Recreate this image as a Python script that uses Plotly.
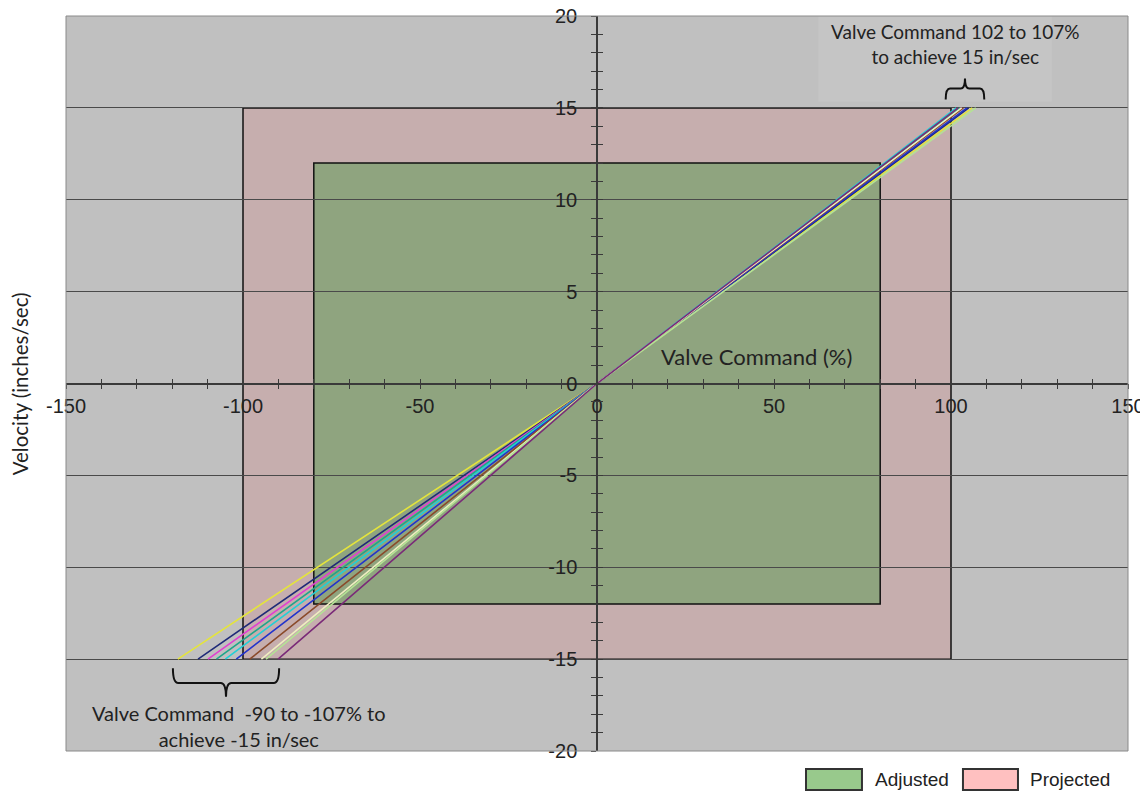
import plotly.graph_objects as go

# ---- data ----
x_range = [-150, 150]
y_range = [-20, 20]
x_tick_vals = [-150, -100, -50, 0, 50, 100, 150]
y_tick_vals = [-20, -15, -10, -5, 0, 5, 10, 15, 20]

projected_x = [-100, 100]
projected_y = [-15, 15]
adjusted_x = [-80, 80]
adjusted_y = [-12, 12]

target_velocity = 15
line_neg_ends = [-118.4, -112.7, -109.9, -107.5, -105.0, -101.9, -98.1, -94.8, -93.5, -90.1]
line_pos_ends = [106.0, 105.0, 103.0, 102.5, 101.5, 104.5, 103.5, 103.0, 107.0, 102.0]
line_colors = ['#e4e43c', '#1f2a78', '#e040d0', '#1fa58a', '#22cfd6',
               '#2233cc', '#8a4a2a', '#efeec0', '#b4e294', '#7a2a78']

# ---- figure ----
fig = go.Figure()

for xn, xp, c in zip(line_neg_ends, line_pos_ends, line_colors):
    fig.add_trace(go.Scatter(x=[xn, 0, xp], y=[-target_velocity, 0, target_velocity],
                             mode='lines', line=dict(color=c, width=1.6),
                             showlegend=False, hoverinfo='skip'))

# dummy trace for overlay axes (tick marks on the other side)
fig.add_trace(go.Scatter(x=[None], y=[None], xaxis='x2', yaxis='y2',
                         showlegend=False, hoverinfo='skip'))

shapes = []
# faint box behind top annotation
shapes.append(dict(type='rect', xref='x', yref='y', x0=62.5, x1=128.5, y0=15.35, y1=20,
                   fillcolor='#c5c5c5', line=dict(width=0), layer='below'))
# projected rect
shapes.append(dict(type='rect', xref='x', yref='y',
                   x0=projected_x[0], x1=projected_x[1], y0=projected_y[0], y1=projected_y[1],
                   fillcolor='#c6aeae', line=dict(color='#111111', width=1.5), layer='below'))
# adjusted rect
shapes.append(dict(type='rect', xref='x', yref='y',
                   x0=adjusted_x[0], x1=adjusted_x[1], y0=adjusted_y[0], y1=adjusted_y[1],
                   fillcolor='#8fa47f', line=dict(color='#111111', width=1.5), layer='below'))


def brace(x0, x1, ya, ym, yt, r):
    xm = (x0 + x1) / 2
    return (f"M {x0},{ya} Q {x0},{ym} {x0 + r},{ym} L {xm - r},{ym} Q {xm},{ym} {xm},{yt} "
            f"Q {xm},{ym} {xm + r},{ym} L {x1 - r},{ym} Q {x1},{ym} {x1},{ya}")


pos_lo, pos_hi = min(line_pos_ends), max(line_pos_ends)
neg_lo, neg_hi = min(line_neg_ends), max(line_neg_ends)
shapes.append(dict(type='path', xref='x', yref='y',
                   path=brace(pos_lo - 3.0, pos_hi + 2.4, 15.45, 16.05, 16.6, 1.2),
                   line=dict(color='#111111', width=2)))
shapes.append(dict(type='path', xref='x', yref='y',
                   path=brace(neg_lo - 1.4, neg_hi + 0.3, -15.5, -16.3, -17.05, 1.5),
                   line=dict(color='#111111', width=2)))

# plot border
shapes.append(dict(type='rect', xref='paper', yref='paper', x0=0, x1=1, y0=0, y1=1,
                   line=dict(color='#8a8a8a', width=1)))

# legend boxes (paper coords)
shapes.append(dict(type='rect', xref='paper', yref='paper', x0=0.6968, x1=0.7495,
                   y0=-0.0531, y1=-0.0245, fillcolor='#98c98c', line=dict(color='#333333', width=2)))
shapes.append(dict(type='rect', xref='paper', yref='paper', x0=0.8446, x1=0.8964,
                   y0=-0.0531, y1=-0.0245, fillcolor='#ffc0c0', line=dict(color='#333333', width=2)))

annot_font = dict(family='Lato, Open Sans, sans-serif', color='#222222')
annotations = [
    dict(text='Valve Command (%)', x=45, y=1.45, xref='x', yref='y',
         showarrow=False, font=dict(size=22, **annot_font)),
    dict(text='Valve Command 102 to 107%<br>to achieve 15 in/sec', x=101.2, y=18.5,
         xref='x', yref='y', showarrow=False, font=dict(size=19, **annot_font)),
    dict(text='Valve Command  -90 to -107% to<br>achieve -15 in/sec', x=-101, y=-18.65,
         xref='x', yref='y', showarrow=False, font=dict(size=20, **annot_font)),
    dict(text='Velocity (inches/sec)', x=-0.0435, y=0.5, xref='paper', yref='paper',
         xanchor='center', yanchor='middle',
         textangle=-90, showarrow=False, font=dict(size=20.5, **annot_font)),
    dict(text='Adjusted', x=0.7599, y=-0.0388, xref='paper', yref='paper', xanchor='left',
         yanchor='middle',
         showarrow=False, font=dict(family='Liberation Sans, Arial', size=19, color='#222222')),
    dict(text='Projected', x=0.9058, y=-0.0388, xref='paper', yref='paper', xanchor='left',
         yanchor='middle',
         showarrow=False, font=dict(family='Liberation Sans, Arial', size=19, color='#222222')),
]

tick_font = dict(family='Liberation Sans, Arial', size=20, color='#222222')
axis_col = '#3a3a3a'

fig.update_layout(
    width=1140, height=783,
    margin=dict(l=58, r=20, t=8, b=40),
    paper_bgcolor='white',
    plot_bgcolor='#c0c0c0',
    shapes=shapes,
    annotations=annotations,
    showlegend=False,
    xaxis=dict(range=x_range, anchor='free', position=0.5, showgrid=False, zeroline=False,
               automargin=False, ticklabeloverflow='allow',
               showline=True, linecolor=axis_col, linewidth=1.5,
               tickmode='array', tickvals=x_tick_vals, ticktext=[str(v) for v in x_tick_vals],
               ticks='outside', ticklen=5, tickcolor=axis_col, tickwidth=1.2,
               ticklabelstandoff=0, tickfont=tick_font,
               minor=dict(dtick=10, tick0=0, ticks='outside', ticklen=5, tickcolor=axis_col,
                          tickwidth=1.2, showgrid=False)),
    xaxis2=dict(range=x_range, overlaying='x', anchor='free', position=0.5, showgrid=False,
                automargin=False,
                zeroline=False, showline=False, showticklabels=False,
                tickmode='array', tickvals=x_tick_vals,
                ticks='inside', ticklen=5, tickcolor=axis_col, tickwidth=1.2,
                minor=dict(dtick=10, tick0=0, ticks='inside', ticklen=5, tickcolor=axis_col,
                           tickwidth=1.2, showgrid=False)),
    yaxis=dict(range=y_range, anchor='free', position=0.5, showgrid=True, gridcolor='#4a4a4a',
               automargin=False, ticklabeloverflow='allow',
               gridwidth=1, zeroline=False, showline=True, linecolor=axis_col, linewidth=1.5,
               tickmode='array', tickvals=y_tick_vals, ticktext=[str(v) for v in y_tick_vals],
               ticks='outside', ticklen=5, tickcolor=axis_col, tickwidth=1.2,
               ticklabelstandoff=10, tickfont=tick_font,
               minor=dict(dtick=1, tick0=0, ticks='outside', ticklen=5, tickcolor=axis_col,
                          tickwidth=1.2, showgrid=False)),
    yaxis2=dict(range=y_range, overlaying='y', anchor='free', position=0.5, showgrid=False,
                automargin=False,
                zeroline=False, showline=False, showticklabels=False,
                tickmode='array', tickvals=y_tick_vals,
                ticks='inside', ticklen=5, tickcolor=axis_col, tickwidth=1.2,
                minor=dict(dtick=1, tick0=0, ticks='inside', ticklen=5, tickcolor=axis_col,
                           tickwidth=1.2, showgrid=False)),
)

fig.write_html('out.html')
